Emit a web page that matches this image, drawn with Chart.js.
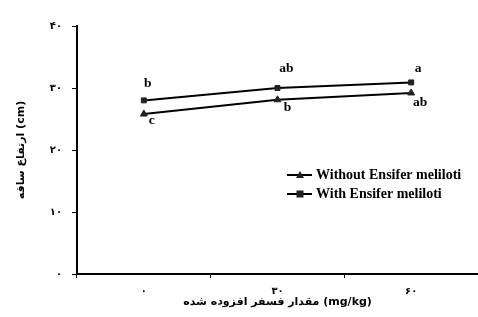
<!DOCTYPE html>
<html>
<head>
<meta charset="utf-8">
<script src="https://cdn.jsdelivr.net/npm/chart.js@4/dist/chart.umd.min.js"></script>
<style>
  html, body { margin: 0; padding: 0; background: #fff; }
  #wrap { width: 478px; height: 317px; }
</style>
</head>
<body>
<div id="wrap"><canvas id="myLineChart" width="478" height="317"></canvas></div>
<script>
// data
const doses = ['۰', '۳۰', '۶۰'];
const withoutEnsifer = [25.8, 28.1, 29.2];
const withEnsifer = [28.0, 30.0, 30.9];
const withoutLetters = ['c', 'b', 'ab'];
const withLetters = ['b', 'ab', 'a'];
const yTickLabels = {0: '۰', 10: '۱۰', 20: '۲۰', 30: '۳۰', 40: '۴۰'};

const persianFont = "'DejaVu Sans', sans-serif";
const latinFont = "'Liberation Serif', 'Times New Roman', serif";

// significance letters next to each point
const letterPlugin = {
    id: 'letters',
    afterDatasetsDraw(chart) {
        const ctx = chart.ctx;
        const sets = [
            {meta: chart.getDatasetMeta(0), letters: withoutLetters, dx: [8, 10, 9], dy: [6, 8, 10]},
            {meta: chart.getDatasetMeta(1), letters: withLetters, dx: [4, 9, 7], dy: [-17, -19, -14]}
        ];
        ctx.save();
        ctx.fillStyle = '#000';
        ctx.font = 'bold 13.5px ' + latinFont;
        ctx.textAlign = 'center';
        ctx.textBaseline = 'middle';
        sets.forEach(s => {
            s.meta.data.forEach((pt, i) => {
                ctx.fillText(s.letters[i], pt.x + s.dx[i], pt.y + s.dy[i]);
            });
        });
        ctx.restore();
    }
};

// legend drawn inside the plot like the original
const legendPlugin = {
    id: 'innerLegend',
    afterDraw(chart) {
        const ctx = chart.ctx;
        const rows = [
            {label: 'Without Ensifer meliloti', style: 'triangle', y: 175},
            {label: 'With Ensifer meliloti', style: 'rect', y: 194}
        ];
        ctx.save();
        rows.forEach(r => {
            ctx.strokeStyle = '#000';
            ctx.lineWidth = 2;
            ctx.beginPath();
            ctx.moveTo(287, r.y);
            ctx.lineTo(312, r.y);
            ctx.stroke();
            ctx.fillStyle = '#222';
            if (r.style === 'rect') {
                ctx.fillRect(296.5, r.y - 3.5, 7, 7);
            } else {
                ctx.beginPath();
                ctx.moveTo(300, r.y - 4);
                ctx.lineTo(304, r.y + 3);
                ctx.lineTo(296, r.y + 3);
                ctx.closePath();
                ctx.fill();
            }
            ctx.fillStyle = '#000';
            ctx.font = 'bold 14px ' + latinFont;
            ctx.textAlign = 'left';
            ctx.textBaseline = 'middle';
            ctx.fillText(r.label, 316, r.y);
        });
        ctx.restore();
    }
};

const lineCtx = document.getElementById('myLineChart').getContext('2d');

const myLineChart = new Chart(lineCtx, {
    type: 'line',
    data: {
        labels: doses,
        datasets: [{
            label: 'Without Ensifer meliloti',
            data: withoutEnsifer,
            borderColor: '#000',
            borderWidth: 2,
            pointStyle: 'triangle',
            pointRadius: 4,
            pointBackgroundColor: '#222',
            pointBorderColor: '#222',
            pointBorderWidth: 1,
            tension: 0
        }, {
            label: 'With Ensifer meliloti',
            data: withEnsifer,
            borderColor: '#000',
            borderWidth: 2,
            pointStyle: 'rect',
            pointRadius: 3.5,
            pointBackgroundColor: '#222',
            pointBorderColor: '#222',
            pointBorderWidth: 1,
            tension: 0
        }]
    },
    options: {
        responsive: false,
        maintainAspectRatio: false,
        animation: false,
        layout: {
            autoPadding: false,
            padding: { left: 0, right: 0, top: 26, bottom: 0 }
        },
        plugins: {
            legend: { display: false },
            tooltip: { enabled: false }
        },
        scales: {
            x: {
                offset: true,
                grid: {
                    offset: true,
                    drawOnChartArea: false,
                    drawTicks: true,
                    tickLength: 4,
                    color: '#000',
                    lineWidth: 1
                },
                border: { color: '#000', width: 2 },
                ticks: {
                    color: '#000',
                    padding: 7,
                    maxRotation: 0,
                    font: { family: persianFont, size: 10, weight: 'bold' }
                },
                title: {
                    display: true,
                    text: 'مقدار فسفر افزوده شده (mg/kg)',
                    color: '#000',
                    font: { family: persianFont, size: 11, weight: 'bold' },
                    padding: { top: 0, bottom: 8 }
                },
                afterFit(scale) {
                    scale.height = 43;
                    scale.paddingLeft = 0;
                    scale.paddingRight = 0;
                }
            },
            y: {
                min: 0,
                max: 40,
                grid: {
                    drawOnChartArea: false,
                    drawTicks: true,
                    tickLength: 5,
                    color: '#000'
                },
                border: { color: '#000', width: 2 },
                ticks: {
                    stepSize: 10,
                    color: '#000',
                    padding: 10,
                    font: { family: persianFont, size: 10, weight: 'bold' },
                    callback: v => yTickLabels[v]
                },
                title: {
                    display: true,
                    text: 'ارتفاع ساقه (cm)',
                    color: '#000',
                    font: { family: persianFont, size: 11, weight: 'bold' },
                    padding: { top: 15, bottom: 0 }
                },
                afterFit(scale) { scale.width = 77; }
            }
        }
    },
    plugins: [letterPlugin, legendPlugin]
});
</script>
</body>
</html>
